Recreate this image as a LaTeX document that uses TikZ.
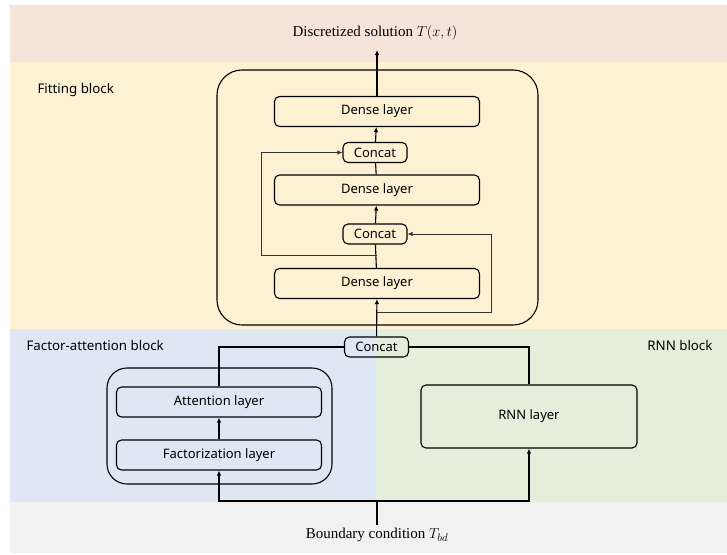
\documentclass[tikz,border=0pt]{standalone}
\usepackage{fontspec}
\setmainfont{Liberation Serif}
\newfontfamily\boxfont{Noto Sans}
\usetikzlibrary{arrows.meta}
\definecolor{toppink}{HTML}{F4E4DA}
\definecolor{fityellow}{HTML}{FDF1D3}
\definecolor{facblue}{HTML}{DEE8F5}
\definecolor{rnngreen}{HTML}{E3EEDB}
\definecolor{botgray}{HTML}{F1F1F1}
\tikzset{
  layer/.style={draw,rounded corners=5pt,line width=1.1pt,minimum width=205pt,minimum height=30pt,inner sep=0pt,font=\boxfont\fontsize{13}{15}\selectfont},
  concat/.style={layer,minimum width=64pt,minimum height=20pt},
  blocklabel/.style={font=\boxfont\fontsize{13.3}{15}\selectfont},
  iolabel/.style={font=\fontsize{15}{17}\selectfont},
  link/.style={line width=1.1pt},
  skip/.style={line width=0.7pt,black!80},
  >={Latex[length=5pt,width=4.5pt]}
}
\begin{document}
\begin{tikzpicture}[x=1pt,y=-1pt]
    \useasboundingbox (0,0) rectangle (727,554);
    \fill[toppink] (10,5) rectangle (727,62);
    \fill[fityellow] (10,62) rectangle (727,329);
    \fill[facblue] (10,329) rectangle (376,502);
    \fill[rnngreen] (376,329) rectangle (727,502);
    \fill[botgray] (10,502) rectangle (727,553);
    \node[blocklabel,anchor=west] (fitlbl) at (34,90) {Fitting block};
    \node[blocklabel,anchor=west] (faclbl) at (23,346) {Factor-attention block};
    \node[blocklabel,anchor=east] (rnnlbl) at (716,346) {RNN block};
    \node[iolabel] (sol) at (375,33) {Discretized solution $T(x,t)$};
    \node[iolabel] (bc) at (377,535) {Boundary condition $T_{bd}$};
    \node[draw,rounded corners=25pt,line width=1.1pt,minimum width=321pt,minimum height=255pt] (fitbox) at (377.5,197.5) {};
    \node[draw,rounded corners=20pt,line width=1.1pt,minimum width=225pt,minimum height=116pt] (facbox) at (219.5,426) {};
    \node[layer] (dense3) at (377,111.5) {Dense layer};
    \node[concat] (cat2) at (375,152.5) {Concat};
    \node[layer] (dense2) at (377,190) {Dense layer};
    \node[concat] (cat1) at (375,234) {Concat};
    \node[layer] (dense1) at (377,283.5) {Dense layer};
    \node[concat] (cat0) at (376.5,347) {Concat};
    \node[layer] (att) at (219,402) {Attention layer};
    \node[layer] (fac) at (219,455) {Factorization layer};
    \node[layer,minimum width=216pt,minimum height=63pt] (rnn) at (529,416.5) {RNN layer};
    \coordinate (out) at (377,50);
    \coordinate (j1) at (377,255);
    \coordinate (j2) at (377,312);
    \coordinate (split) at (377,501);
    \draw[link,->] (dense3) -- (out);
    \draw[link,->] (cat2) -- (dense3);
    \draw[link] (dense2) -- (cat2);
    \draw[link,->] (cat1) -- (dense2);
    \draw[link] (dense1) -- (cat1);
    \draw[link,->] (cat0) -- (dense1);
    \draw[skip,->] (j1) -- ++(-116,0) |- (cat2.west);
    \draw[skip,->] (j2) -- ++(114,0) |- (cat1.east);
    \draw[link] (cat0.west) -| (att.north);
    \draw[link] (cat0.east) -| (rnn.north);
    \draw[link,->] (fac) -- (att);
    \draw[link] (bc) -- (split);
    \draw[link,->] (split) -| (fac.south);
    \draw[link,->] (split) -| (rnn.south);
\end{tikzpicture}
\end{document}
